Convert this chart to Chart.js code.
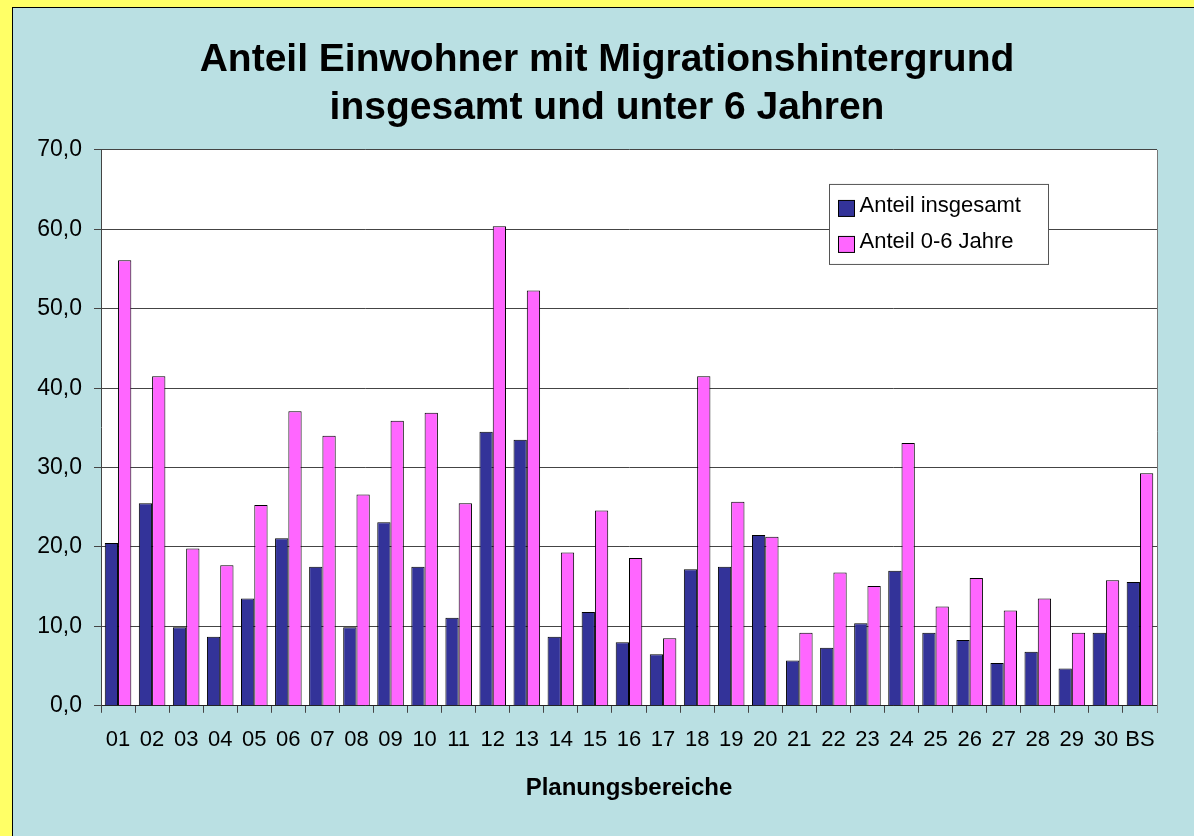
<!DOCTYPE html>
<html lang="de">
<head>
    <meta charset="UTF-8">
    <title>Anteil Einwohner mit Migrationshintergrund</title>
    <script src="https://cdn.jsdelivr.net/npm/chart.js"></script>
    <style>
        html, body {
            margin: 0;
            padding: 0;
            width: 1194px;
            height: 836px;
            background: #FFFF66;
            overflow: hidden;
        }
        .panel {
            position: absolute;
            left: 12px;
            top: 7px;
            right: 0;
            bottom: 0;
            background: #BAE0E3;
            border-left: 1px solid #000;
            border-top: 1px solid #000;
        }
        canvas {
            display: block;
        }
    </style>
</head>
<body>
    <div class="panel">
        <canvas id="migChart" width="1181" height="828"></canvas>
    </div>

    <script>
        // Planungsbereiche
        const bereiche = ['01', '02', '03', '04', '05', '06', '07', '08', '09', '10',
            '11', '12', '13', '14', '15', '16', '17', '18', '19', '20',
            '21', '22', '23', '24', '25', '26', '27', '28', '29', '30', 'BS'];

        // Anteil insgesamt (%)
        const anteilGesamt = [20.5, 25.5, 9.9, 8.7, 13.5, 21.1, 17.5, 9.9, 23.1, 17.5,
            11.1, 34.5, 33.5, 8.7, 11.8, 8.0, 6.5, 17.2, 17.5, 21.5,
            5.7, 7.3, 10.4, 17.0, 9.2, 8.3, 5.4, 6.8, 4.7, 9.2, 15.6];

        // Anteil 0-6 Jahre (%)
        const anteilKinder = [56.1, 41.5, 19.8, 17.7, 25.3, 37.1, 34.0, 26.6, 35.9, 36.9,
            25.5, 60.4, 52.3, 19.3, 24.6, 18.6, 8.5, 41.5, 25.7, 21.3,
            9.2, 16.8, 15.1, 33.1, 12.5, 16.1, 12.0, 13.5, 9.2, 15.8, 29.3];

        const titelZeilen = ['Anteil Einwohner mit Migrationshintergrund', 'insgesamt und unter 6 Jahren'];

        const FONT = "'Liberation Sans', Arial, sans-serif";

        // weisser Hintergrund der Zeichenflaeche + rechter Rand
        const plotBg = {
            id: 'plotBg',
            beforeDraw(chart) {
                const a = chart.chartArea;
                const ctx = chart.ctx;
                ctx.save();
                ctx.fillStyle = '#fff';
                ctx.fillRect(a.left, a.top, a.right - a.left, a.bottom - a.top);
                ctx.restore();
            },
            afterDraw(chart) {
                const a = chart.chartArea;
                const ctx = chart.ctx;
                ctx.save();
                ctx.strokeStyle = '#777';
                ctx.lineWidth = 1;
                ctx.beginPath();
                ctx.moveTo(Math.round(a.right) + 0.5, a.top);
                ctx.lineTo(Math.round(a.right) + 0.5, a.bottom + 7);
                ctx.stroke();
                ctx.restore();
            }
        };

        // Legende mit Rahmen innerhalb der Zeichenflaeche
        const boxLegend = {
            id: 'boxLegend',
            afterDraw(chart) {
                const ctx = chart.ctx;
                const a = chart.chartArea;
                const x = a.right - 327.5, y = a.top + 34.5, w = 219, h = 80;
                ctx.save();
                ctx.fillStyle = '#fff';
                ctx.fillRect(x, y, w, h);
                ctx.strokeStyle = '#555';
                ctx.lineWidth = 1;
                ctx.strokeRect(x, y, w, h);
                ctx.font = '22px ' + FONT;
                ctx.textBaseline = 'middle';
                chart.data.datasets.forEach((ds, i) => {
                    const cy = y + 24 + i * 36;
                    ctx.fillStyle = ds.backgroundColor;
                    ctx.fillRect(x + 9, cy - 8, 16, 16);
                    ctx.strokeStyle = '#000';
                    ctx.strokeRect(x + 9, cy - 8, 16, 16);
                    ctx.fillStyle = '#000';
                    ctx.fillText(ds.label, x + 30, cy - 3);
                });
                ctx.restore();
            }
        };

        const ctx = document.getElementById('migChart').getContext('2d');
        new Chart(ctx, {
            type: 'bar',
            data: {
                labels: bereiche,
                datasets: [
                    {
                        label: 'Anteil insgesamt',
                        data: anteilGesamt,
                        backgroundColor: '#333399',
                        borderColor: '#000',
                        borderWidth: 1
                    },
                    {
                        label: 'Anteil 0-6 Jahre',
                        data: anteilKinder,
                        backgroundColor: '#FF66FF',
                        borderColor: '#000',
                        borderWidth: 1
                    }
                ]
            },
            options: {
                responsive: false,
                animation: false,
                layout: {
                    padding: { left: 7, right: 0, top: 0, bottom: 33 }
                },
                datasets: {
                    bar: {
                        categoryPercentage: 0.78,
                        barPercentage: 1.0
                    }
                },
                plugins: {
                    legend: { display: false },
                    tooltip: { enabled: false },
                    title: {
                        display: true,
                        text: titelZeilen,
                        color: '#000',
                        font: { family: FONT, size: 39, weight: 'bold', lineHeight: 1.23 },
                        padding: { top: 28, bottom: 18 }
                    }
                },
                scales: {
                    x: {
                        grid: {
                            offset: true,
                            drawOnChartArea: false,
                            drawTicks: true,
                            tickLength: 7,
                            color: '#444'
                        },
                        border: { color: '#222', width: 1 },
                        ticks: {
                            color: '#000',
                            font: { family: FONT, size: 22 },
                            padding: 14,
                            maxRotation: 0,
                            autoSkip: false
                        },
                        title: {
                            display: true,
                            text: 'Planungsbereiche',
                            color: '#000',
                            font: { family: FONT, size: 24, weight: 'bold' },
                            padding: { top: 7, bottom: 0 }
                        }
                    },
                    y: {
                        min: 0,
                        max: 70,
                        afterFit(scale) { scale.width = 81; },
                        grid: {
                            color: '#444',
                            tickLength: 7
                        },
                        border: { color: '#444', width: 1 },
                        ticks: {
                            stepSize: 10,
                            color: '#000',
                            font: { family: FONT, size: 23 },
                            padding: 12,
                            callback: (v) => v.toFixed(1).replace('.', ',')
                        }
                    },
                    // leerer Rand rechts
                    rechts: {
                        type: 'linear',
                        position: 'right',
                        afterFit(scale) { scale.width = 37; },
                        grid: { display: false },
                        border: { display: false },
                        ticks: { display: false }
                    }
                }
            },
            plugins: [plotBg, boxLegend]
        });
    </script>
</body>
</html>
